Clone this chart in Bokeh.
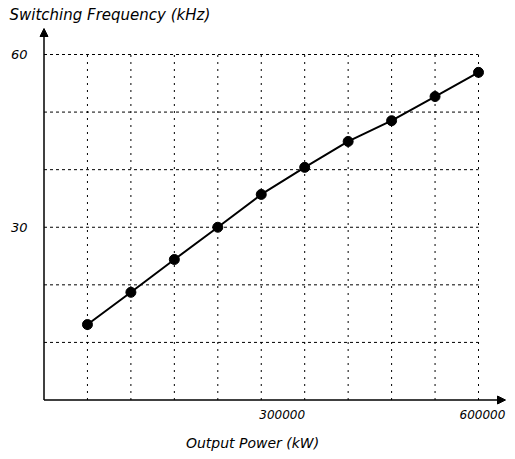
from bokeh.plotting import figure
from bokeh.models import Range1d, Arrow, NormalHead
from bokeh.core.properties import value
from bokeh.embed import file_html
from bokeh.resources import INLINE

# ---- data ----
power_kw = [60000, 120000, 180000, 240000, 300000, 360000, 420000, 480000, 540000, 600000]
freq_khz = [13.1, 18.7, 24.4, 30.0, 35.7, 40.4, 44.9, 48.5, 52.7, 56.9]
y_grid = [10, 20, 30, 40, 50, 60]
y_ticks = [30, 60]
y_tick_labels = ["30", "60"]
x_ticks = [300000, 600000]
x_tick_labels = ["300000", "600000"]
x_title = "Output Power (kW)"
y_title = "Switching Frequency (kHz)"

# ---- layout (pixels inside the figure) ----
W, H = 507, 451
X0_PX, X1_PX = 43.5, 478.0   # screen x of x=0 and x=max
Y0_PX, Y1_PX = 399.5, 54.0   # screen y of y=0 and y=max
x_max = max(power_kw)
y_max = max(y_grid)
sx = (X1_PX - X0_PX) / x_max
sy = (Y0_PX - Y1_PX) / y_max


def dx(px):
    return px / sx


def dy(px):
    return px / sy


x_start, x_end = -dx(X0_PX), dx(W - X0_PX)
y_start, y_end = -dy(H - Y0_PX), dy(Y0_PX)

FONT = value("DejaVu Sans")
TICK_LABEL_PX = 46  # approximate width of a 6-digit label at 12px

p = figure(width=W, height=H, x_range=Range1d(x_start, x_end), y_range=Range1d(y_start, y_end),
           output_backend="svg", toolbar_location=None,
           x_axis_location=None, y_axis_location=None, min_border=0)
p.outline_line_color = None
p.background_fill_color = "white"
p.border_fill_color = "white"
p.xgrid.visible = False
p.ygrid.visible = False

# grid lines
n = len(y_grid)
p.segment(x0=[0] * n, y0=y_grid, x1=[x_max] * n, y1=y_grid,
          line_color="black", line_width=1, line_dash="3 3")
m = len(power_kw)
p.segment(x0=power_kw, y0=[0] * m, x1=power_kw, y1=[y_max] * m,
          line_color="black", line_width=1, line_dash="2 5")

# axes with arrows
p.add_layout(Arrow(end=NormalHead(size=8, fill_color="black", line_color="black"),
                   x_start=0, y_start=0, x_end=0, y_end=y_max + dy(26),
                   line_color="black", line_width=1.5))
p.add_layout(Arrow(end=NormalHead(size=8, fill_color="black", line_color="black"),
                   x_start=0, y_start=0, x_end=x_end - dx(2), y_end=0,
                   line_color="black", line_width=1.5))

# series
p.line(power_kw, freq_khz, line_color="black", line_width=2)
p.scatter(power_kw, freq_khz, size=10, fill_color="black", line_color="black")

# tick labels
p.text(x=[-dx(16.5)] * len(y_ticks), y=y_ticks, text=y_tick_labels,
       text_align="right", text_baseline="middle", text_font=FONT,
       text_font_style="italic", text_font_size="13px", text_color="black")
x_label_pos = [min(t - dx(2), x_end - dx(TICK_LABEL_PX + 2)) for t in x_ticks]
p.text(x=x_label_pos, y=[-dy(14)] * len(x_ticks), text=x_tick_labels,
       text_align="left", text_baseline="middle", text_font=FONT,
       text_font_style="italic", text_font_size="12px", text_color="black")

# axis titles
p.text(x=[dx(252 - X0_PX)], y=[y_start + dy(9)], text=[x_title],
       text_align="center", text_baseline="middle", text_font=FONT,
       text_font_style="italic", text_font_size="14px", text_color="black")
p.text(x=[x_start + dx(9)], y=[y_end - dy(14)], text=[y_title],
       text_align="left", text_baseline="middle", text_font=FONT,
       text_font_style="italic", text_font_size="15px", text_color="black")

open("out.html", "w").write(file_html(p, INLINE))
